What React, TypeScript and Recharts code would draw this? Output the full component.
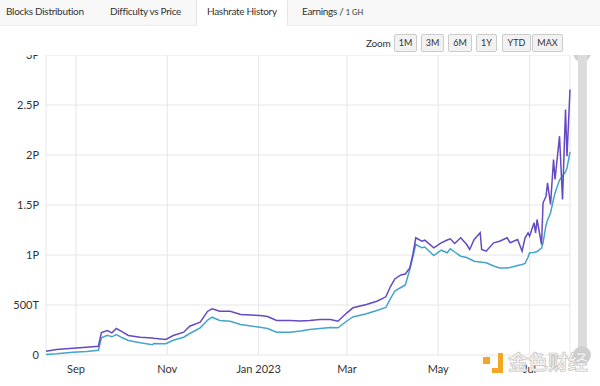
import { LineChart, Line, XAxis, YAxis, CartesianGrid } from 'recharts';

// sample dates (UTC) and the two hashrate series, in TH/s
const dates = [
  '2022-08-12', '2022-08-19', '2022-08-30', '2022-09-08', '2022-09-16', '2022-09-18', '2022-09-22', '2022-09-25', '2022-09-28', '2022-10-02',
  '2022-10-06', '2022-10-14', '2022-10-22', '2022-10-23', '2022-10-31', '2022-11-05', '2022-11-12', '2022-11-16', '2022-11-23', '2022-11-28',
  '2022-12-01', '2022-12-06', '2022-12-13', '2022-12-20', '2022-12-27', '2023-01-02', '2023-01-07', '2023-01-13', '2023-01-22', '2023-01-29',
  '2023-02-04', '2023-02-11', '2023-02-18', '2023-02-23', '2023-03-01', '2023-03-05', '2023-03-14', '2023-03-21', '2023-03-27', '2023-03-30',
  '2023-04-02', '2023-04-06', '2023-04-09', '2023-04-12', '2023-04-14', '2023-04-16', '2023-04-20', '2023-04-22', '2023-04-28', '2023-05-03',
  '2023-05-07', '2023-05-09', '2023-05-12', '2023-05-16', '2023-05-20', '2023-05-22', '2023-05-25', '2023-05-29', '2023-05-30', '2023-06-02',
  '2023-06-07', '2023-06-11', '2023-06-16', '2023-06-18', '2023-06-23', '2023-06-26', '2023-06-28', '2023-06-30', '2023-07-01', '2023-07-04',
  '2023-07-05', '2023-07-06', '2023-07-09', '2023-07-10', '2023-07-12', '2023-07-13', '2023-07-15', '2023-07-17', '2023-07-18', '2023-07-21',
  '2023-07-23', '2023-07-25', '2023-07-26', '2023-07-28',
];

const hashrate = [
  38, 55, 68, 78, 88, 225, 245, 222, 265, 232,
  195, 178, 170, 168, 155, 195, 228, 288, 328, 438,
  462, 438, 438, 405, 400, 395, 385, 345, 345, 340,
  345, 355, 355, 338, 422, 472, 505, 538, 582, 682,
  760, 800, 810, 870, 1000, 1172, 1138, 1148, 1072, 1122,
  1150, 1162, 1115, 1172, 1105, 1055, 1155, 1222, 1055, 1038,
  1122, 1138, 1172, 1122, 1155, 1038, 1172, 1222, 1188, 1322,
  1222, 1355, 1105, 1522, 1588, 1722, 1505, 1955, 1755, 2188,
  1555, 2455, 1988, 2655,
];

const hashrateAvg = [
  5, 12, 28, 36, 48, 172, 198, 182, 205, 172,
  145, 122, 102, 115, 112, 148, 178, 215, 272, 350,
  378, 345, 338, 305, 290, 278, 265, 228, 228, 240,
  255, 265, 275, 272, 340, 380, 412, 445, 475, 562,
  640, 675, 700, 855, 980, 1105, 1072, 1080, 995, 1048,
  1022, 1062, 1030, 988, 975, 960, 938, 930, 928, 922,
  890, 870, 870, 875, 895, 905, 915, 980, 1022, 1025,
  1030, 1035, 1070, 1122, 1300, 1350, 1420, 1560, 1620, 1750,
  1790, 1830, 1870, 2030,
];

const xTickDates = ['2022-09-01', '2022-11-01', '2023-01-01', '2023-03-01', '2023-05-01', '2023-07-01'];
const yTicks = [0, 500, 1000, 1500, 2000, 2500, 3000];
const tabs = ['Blocks Distribution', 'Difficulty vs Price', 'Hashrate History', 'Earnings / '];
const zoomButtons = ['1M', '3M', '6M', '1Y', 'YTD', 'MAX'];

const MONTHS = ['Jan', 'Feb', 'Mar', 'Apr', 'May', 'Jun', 'Jul', 'Aug', 'Sep', 'Oct', 'Nov', 'Dec'];
const toTime = (s: string) => Date.parse(s + 'T00:00:00Z');

const data = dates.map((d, i) => ({ t: toTime(d), hashrate: hashrate[i], avg: hashrateAvg[i] }));

function formatDate(v: number) {
  const d = new Date(v);
  const m = d.getUTCMonth();
  return m === 0 ? `${MONTHS[m]} ${d.getUTCFullYear()}` : MONTHS[m];
}

function formatHash(v: number) {
  if (v === 0) return '0';
  if (v >= 1000) return `${v / 1000}P`;
  return `${v}T`;
}

const FONT = 'Lato, "Noto Sans", sans-serif';
const tabLeft = [6, 110, 207, 302];
const btnLeft = [394, 421, 448, 476, 502, 532];
const btnWidth = [23, 23, 24, 21, 29, 31];

export default function App() {
  return (
    <div
      style={{
        position: 'fixed',
        left: 0,
        top: 0,
        width: 600,
        height: 386,
        background: '#fff',
        overflow: 'hidden',
        fontFamily: FONT,
      }}
    >
      {/* scrollbar track behind the overlay */}
      <div style={{ position: 'absolute', left: 573, top: 44, width: 18, height: 18, borderRadius: 9, background: '#d0d0d0' }} />
      <div style={{ position: 'absolute', left: 578, top: 55, width: 9, height: 298, background: '#dcdcdc' }} />
      <div style={{ position: 'absolute', left: 573, top: 346, width: 18, height: 18, borderRadius: 9, background: '#cfcfcf' }} />

      <div style={{ position: 'absolute', left: 0, top: 0 }}>
        <LineChart width={600} height={386} data={data} margin={{ top: 55, right: 30, bottom: 1, left: 0 }}>
          <CartesianGrid stroke="#e6e6e6" />
          <XAxis
            dataKey="t"
            type="number"
            scale="time"
            domain={[toTime('2022-08-12'), toTime('2023-07-28')]}
            ticks={xTickDates.map(toTime)}
            tickFormatter={formatDate}
            axisLine={false}
            tickLine={false}
            tickSize={0}
            tickMargin={10}
            height={30}
            tick={{ fontSize: 11, fill: '#333', fontFamily: FONT }}
          />
          <YAxis
            domain={[0, 3000]}
            ticks={yTicks}
            tickFormatter={formatHash}
            axisLine={false}
            tickLine={false}
            tickSize={0}
            tickMargin={7}
            width={46}
            tick={{ fontSize: 11, fill: '#333', fontFamily: FONT }}
          />
          <Line
            type="linear"
            dataKey="avg"
            stroke="#44a4c9"
            strokeWidth={1.5}
            dot={false}
            isAnimationActive={false}
          />
          <Line
            type="linear"
            dataKey="hashrate"
            stroke="#6549c2"
            strokeWidth={1.5}
            dot={false}
            isAnimationActive={false}
          />
        </LineChart>
      </div>

      {/* header overlay: tabs and zoom buttons */}
      <div style={{ position: 'absolute', left: 0, top: 0, width: 600, height: 55, background: '#fff' }} />
      <div style={{ position: 'absolute', left: 0, top: 0, width: 600, height: 25, background: '#f8f8f8', borderBottom: '1px solid #ececec' }} />
      <div
        style={{
          position: 'absolute',
          left: 196,
          top: 0,
          width: 90,
          height: 26,
          background: '#fff',
          borderLeft: '1px solid #e6e6e6',
          borderRight: '1px solid #e6e6e6',
        }}
      />
      {tabs.map((t, i) => (
        <div
          key={t}
          style={{
            position: 'absolute',
            left: tabLeft[i],
            top: 5,
            fontSize: 10,
            letterSpacing: -0.3,
            color: '#333',
            whiteSpace: 'nowrap',
          }}
        >
          {t}
          {i === 3 && <span style={{ fontSize: 7.5, letterSpacing: 0 }}>1 GH</span>}
        </div>
      ))}

      <div style={{ position: 'absolute', left: 366, top: 37, fontSize: 10, letterSpacing: -0.2, color: '#333' }}>Zoom</div>
      {zoomButtons.map((b, i) => (
        <div
          key={b}
          style={{
            position: 'absolute',
            left: btnLeft[i],
            top: 34,
            width: btnWidth[i],
            height: 18,
            boxSizing: 'border-box',
            border: '1px solid #cccccc',
            borderRadius: 2,
            background: '#f2f2f2',
            fontSize: 9,
            color: '#333',
            textAlign: 'center',
            lineHeight: '16px',
          }}
        >
          {b}
        </div>
      ))}

      {/* watermark */}
      <div style={{ position: 'absolute', left: 483, top: 357, width: 7, height: 7, background: '#f5a623' }} />
      <div
        style={{
          position: 'absolute',
          left: 492,
          top: 353,
          width: 11,
          height: 20,
          boxSizing: 'border-box',
          borderRight: '5px solid #f5a623',
          borderBottom: '5px solid #f5a623',
        }}
      />
      <div
        style={{
          position: 'absolute',
          left: 508,
          top: 347,
          fontSize: 20,
          fontWeight: 700,
          fontFamily: '"Noto Sans CJK SC", sans-serif',
          color: '#f2f2f2',
          WebkitTextStroke: '0.7px #c4c4c4',
          whiteSpace: 'nowrap',
        }}
      >
        金色财经
      </div>
    </div>
  );
}
